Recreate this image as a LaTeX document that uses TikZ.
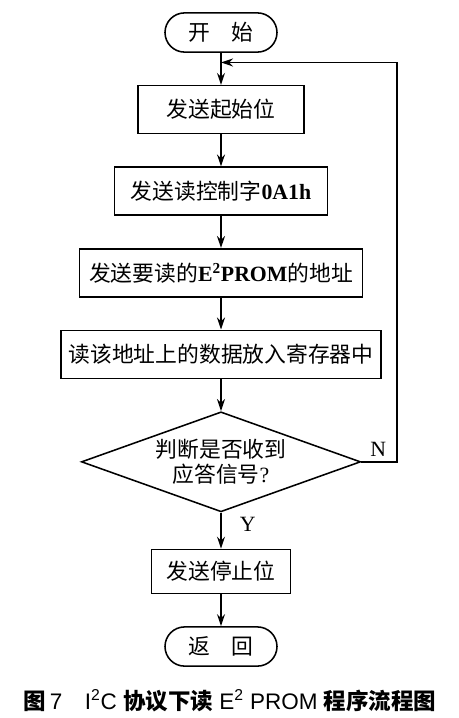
\documentclass[tikz,border=0pt]{standalone}
\usepackage{fontspec}
\setmainfont{Liberation Serif}
\newfontfamily\cjk{Noto Sans CJK SC}
\newfontfamily\capfont{Liberation Sans}
\newcommand{\zh}[1]{{\cjk #1}}
\usetikzlibrary{positioning,shapes.geometric,arrows.meta}

\begin{document}
\begin{tikzpicture}[
    node distance=0.8cm,
    every node/.style={font=\fontsize{15.5}{18}\selectfont},
    box/.style={draw, line width=1.1pt, align=center, minimum height=1.2cm},
    term/.style={draw, line width=1.1pt, rounded corners=0.49cm, minimum width=2.8cm, minimum height=0.98cm},
    decide/.style={draw, diamond, line width=1.1pt, align=center, aspect=2.8, inner sep=0pt, minimum width=6.98cm, minimum height=2.5cm},
    arrow/.style={-{Stealth[length=3mm, width=2mm]}, line width=1.1pt}
  ]
    \useasboundingbox (0,0) rectangle (11.45,-17.95);
    \node[term] (start) at (5.525,-0.8125) {\zh{开\hspace{1em}始}};
    \node[box, minimum width=4.15cm, below=of start] (b1) {\zh{发送起始位}};
    \node[box, minimum width=5.33cm, below=of b1] (b2) {\zh{发送读控制字}\textbf{0A1h}};
    \node[box, minimum width=7.08cm, below=of b2] (b3) {\zh{发送要读的}\textbf{E\textsuperscript{2}PROM}\zh{的地址}};
    \node[box, minimum width=8cm, below=of b3] (b4) {\zh{读该地址上的数据放入寄存器中}};
    \node[decide, below=of b4] (dec) {\zh{判断是否收到}\\\zh{应答信号}?};
    \node[box, minimum width=3.48cm, minimum height=1.1cm, below=0.9cm of dec] (b5) {\zh{发送停止位}};
    \node[term, below=of b5] (stop) {\zh{返\hspace{1em}回}};
    \node[above right=0.02cm and 0.1cm of dec.east] (nlab) {N};
    \node[below right=0.0cm and 0.35cm of dec.south] (ylab) {Y};
    \coordinate (fb) at (9.925,0);
    \path (start.south) -- (b1.north) coordinate[pos=0.3] (join);
    \draw[arrow] (start) -- (b1);
    \draw[arrow] (b1) -- (b2);
    \draw[arrow] (b2) -- (b3);
    \draw[arrow] (b3) -- (b4);
    \draw[arrow] (b4) -- (dec);
    \draw[arrow] (dec) -- (b5);
    \draw[arrow] (b5) -- (stop);
    \draw[arrow] (dec.east) -- (dec.east -| fb) |- (join);
    % caption
    \node[font=\capfont\fontsize{16}{18}\selectfont] (cap) at (5.75,-17.52)
      {{\cjk\bfseries 图}\,7\quad I\textsuperscript{2}C {\cjk\bfseries 协议下读} E\textsuperscript{2} PROM {\cjk\bfseries 程序流程图}};
  \end{tikzpicture}
\end{document}
